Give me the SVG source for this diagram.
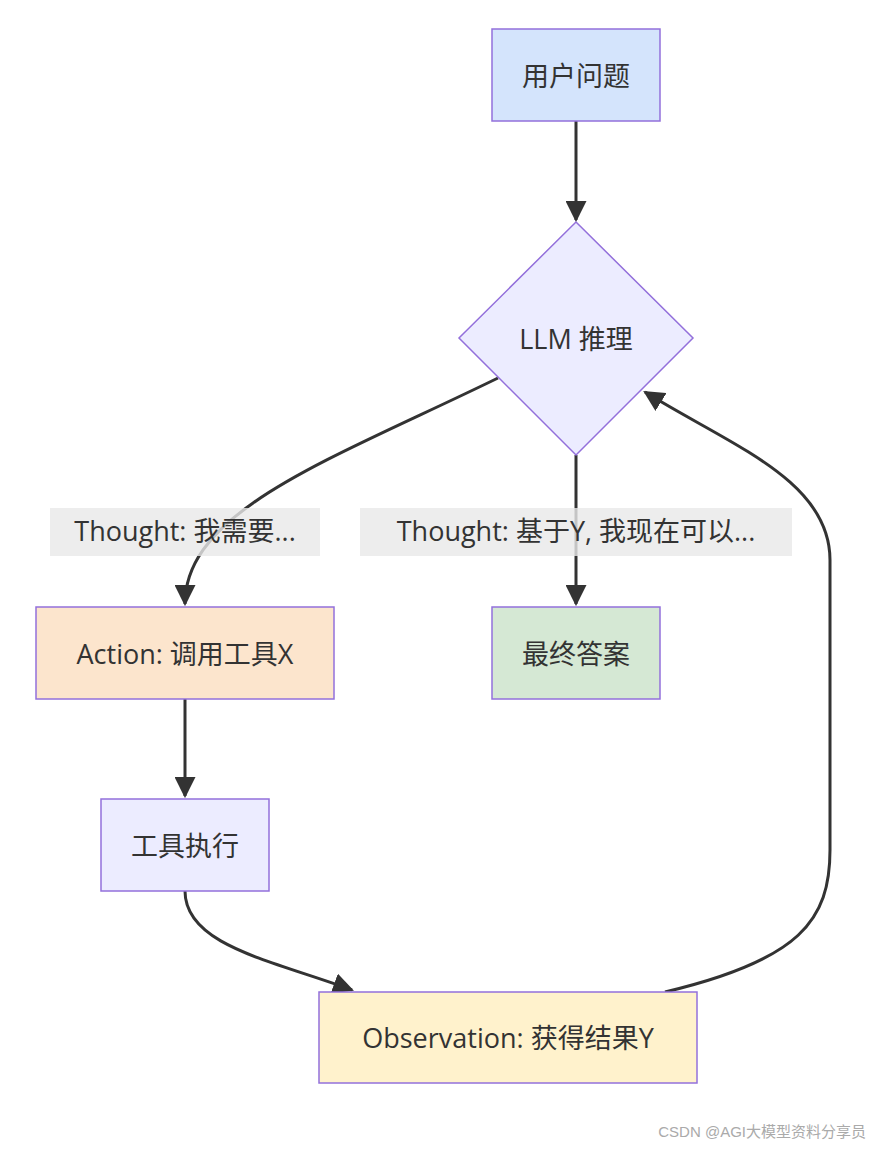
<svg xmlns="http://www.w3.org/2000/svg" width="871" height="1150" viewBox="0 0 871 1150">
<style>
.n{stroke:#9370DB;stroke-width:1.5}
.t{font-family:"Open Sans","Noto Sans CJK SC",sans-serif;font-size:27px;fill:#333;text-anchor:middle;dominant-baseline:central}
.e{fill:none;stroke:#333;stroke-width:3}
.lb{fill:#e8e8e8;opacity:0.8}
</style>
<defs><marker id="a" viewBox="0 0 10 10" refX="9" refY="5" markerWidth="8" markerHeight="8" markerUnits="userSpaceOnUse" orient="auto"><path d="M0,0L10,5L0,10z" fill="#333"/></marker>
<marker id="b" viewBox="0 0 10 10" refX="9" refY="5" markerWidth="7" markerHeight="7" orient="auto"><path d="M0,0L10,5L0,10z" fill="#333"/></marker></defs>
<rect width="871" height="1150" fill="#fff"/>
<g id="edges">
<path class="e" marker-end="url(#b)" d="M576,121 L576,220"/>
<path class="e" marker-end="url(#b)" d="M498,378 C330,460 185,510 185,604"/>
<path class="e" marker-end="url(#b)" d="M576,455 L576,604"/>
<path class="e" marker-end="url(#b)" d="M185,699 L185,796"/>
<path class="e" marker-end="url(#b)" d="M185,891 C185,945 270,960 352,990"/>
<path class="e" marker-end="url(#b)" d="M665,992 C800,960 830,920 830,850 L830,560 C830,480 730,445 645,392"/>
</g>
<g id="lbl1"><rect class="lb" x="50" y="508" width="270" height="48"/><text class="t" x="185" y="530">Thought: 我需要...</text></g>
<g id="lbl2"><rect class="lb" x="360" y="508" width="432" height="48"/><text class="t" x="576" y="530">Thought: 基于Y, 我现在可以...</text></g>
<g id="user"><rect class="n" x="492" y="29" width="168" height="92" fill="#d4e4fc"/><text class="t" x="576" y="75">用户问题</text></g>
<g id="llm"><path class="n" d="M576,222 L693,338 L576,455 L459,338Z" fill="#ececff"/><text class="t" x="576" y="338">LLM 推理</text></g>
<g id="action"><rect class="n" x="36" y="607" width="298" height="92" fill="#fce5cd"/><text class="t" x="185" y="653">Action: 调用工具X</text></g>
<g id="final"><rect class="n" x="492" y="607" width="168" height="92" fill="#d5e8d4"/><text class="t" x="576" y="653">最终答案</text></g>
<g id="tool"><rect class="n" x="101" y="799" width="168" height="92" fill="#ececff"/><text class="t" x="185" y="845">工具执行</text></g>
<g id="obs"><rect class="n" x="319" y="992" width="378" height="91" fill="#fff2cc"/><text class="t" x="508" y="1037">Observation: 获得结果Y</text></g>
<text x="866" y="1137" font-family="'Liberation Sans','Noto Sans CJK SC',sans-serif" font-size="15" fill="#aaa" text-anchor="end">CSDN @AGI大模型资料分享员</text>
</svg>
